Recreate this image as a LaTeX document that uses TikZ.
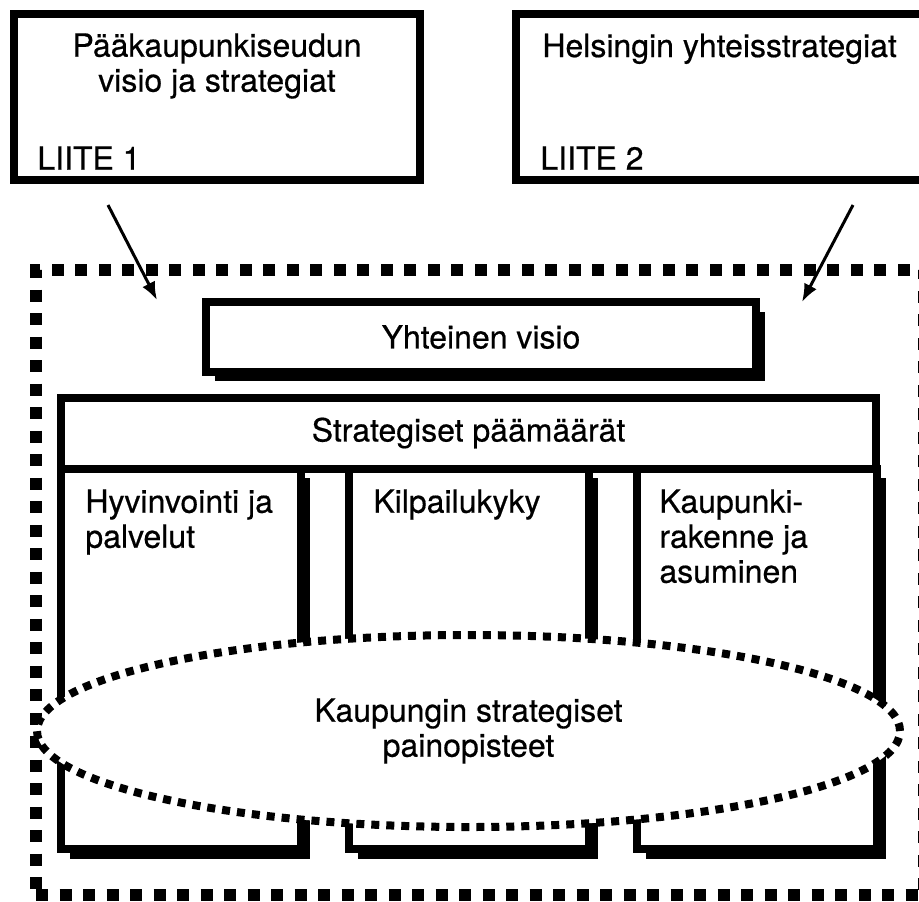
\documentclass[tikz,border=0pt]{standalone}
\usepackage{fontspec}
\setmainfont{TeX Gyre Heros}[FakeBold=0.5]
\usetikzlibrary{shapes,arrows.meta,positioning,shadows}

\begin{document}
\begin{tikzpicture}[x=0.5pt,y=-0.5pt,
  every node/.style={font=\fontsize{16}{17.5}\selectfont, inner sep=0pt},
  box/.style={draw, line width=4pt, fill=white, rectangle},
  shadowbox/.style={box, drop shadow={shadow xshift=4.5pt, shadow yshift=-4.75pt, fill=black, opacity=1}},
  outerframe/.style={draw, line width=6pt, dash pattern=on 6pt off 5.75pt},
  dotring/.style={draw, line width=4pt, dash pattern=on 4pt off 3.5pt, fill=white},
  pointer/.style={line width=1.5pt, -{Latex[length=9pt,width=7pt]}}]
\useasboundingbox (0,0) rectangle (919,901);
\clip (0,0) rectangle (919,901);

% liitteet
\node[box, minimum width=203pt, minimum height=83pt] (pks) at (217,97) {};
\node[box, minimum width=209pt, minimum height=83pt] (hki) at (725,97) {};
\node[align=center] (pkstext) at (217,66) {Pääkaupunkiseudun\\visio ja strategiat};
\node[anchor=west] (liite1) at (37,158) {LIITE 1};
\node[anchor=base west] (hkitext) at (542,57) {Helsingin yhteisstrategiat};
\node[anchor=west] (liite2) at (540,158) {LIITE 2};

% kehys
\node[outerframe, minimum width=444pt, minimum height=312.5pt] (kehys) at (480,582.5) {};

\coordinate (pksout) at (108,205);
\coordinate (pksin) at (157,300);
\coordinate (hkiout) at (853,205);
\coordinate (hkiin) at (802,302);
\draw[pointer] (pksout) -- (pksin);
\draw[pointer] (hkiout) -- (hkiin);

\node[shadowbox, minimum width=275pt, minimum height=34.75pt] (visio) at (481,337) {Yhteinen visio};

% paamaarat
\node[shadowbox, minimum width=120pt, minimum height=190.25pt] (col1) at (181,658.75) {};
\node[shadowbox, minimum width=120pt, minimum height=190.25pt] (col2) at (469,658.75) {};
\node[shadowbox, minimum width=120pt, minimum height=190.25pt] (col3) at (756.75,658.75) {};
\node[box, minimum width=407.5pt, minimum height=35.5pt] (paamaarat) at (468.5,433) {Strategiset päämäärät};

\node[anchor=north west, align=left] (hyvtext) at (85,489) {Hyvinvointi ja\\palvelut};
\node[anchor=north west] (kiltext) at (373,489) {Kilpailukyky};
\node[anchor=north west, align=left] (kaptext) at (659,489) {Kaupunki-\\rakenne ja\\asuminen};

\node[dotring, ellipse, minimum width=431.5pt, minimum height=96pt, align=center] (painopisteet) at (468.5,731) {Kaupungin strategiset\\painopisteet};
\end{tikzpicture}
\end{document}
